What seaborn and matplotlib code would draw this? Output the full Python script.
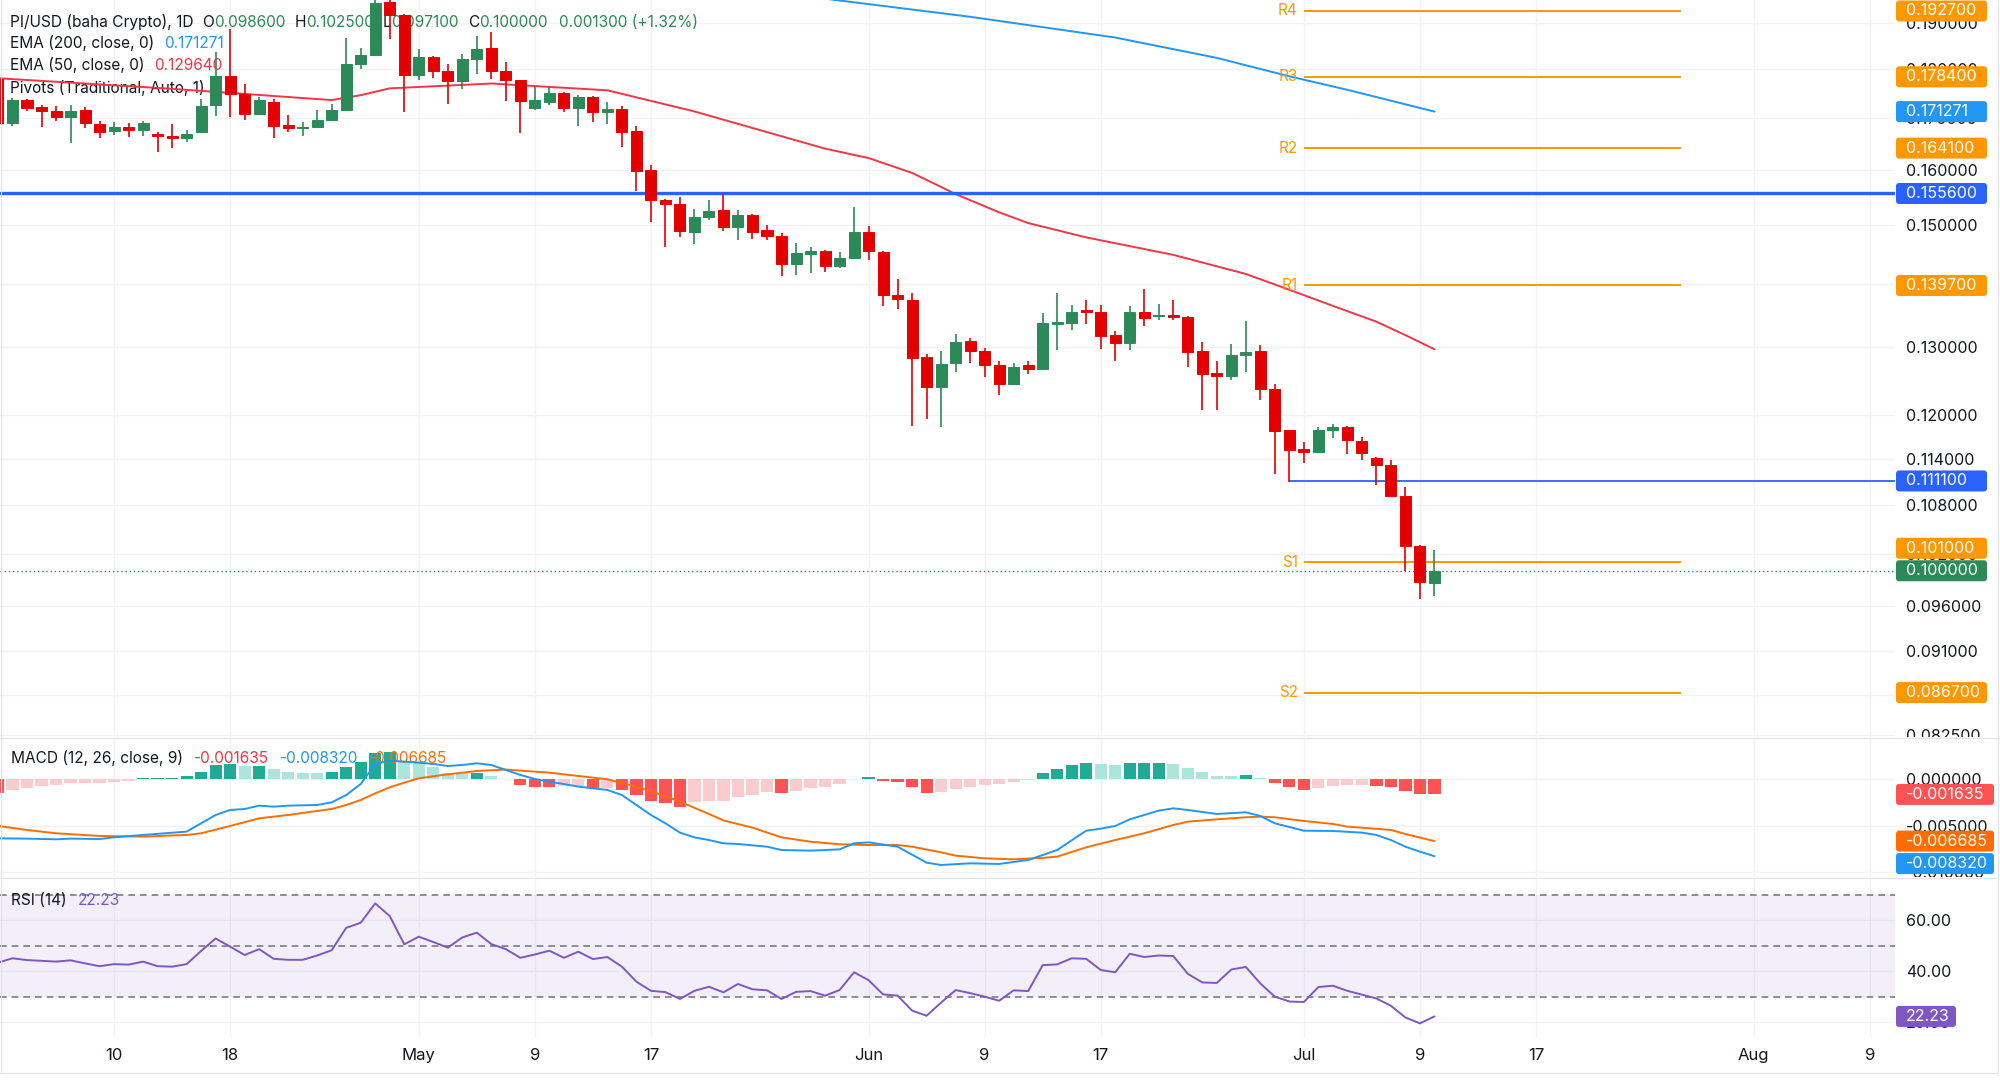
import numpy as np
import pandas as pd
import matplotlib
matplotlib.use("Agg")
import matplotlib.pyplot as plt
import matplotlib.dates as mdates
from matplotlib.patches import FancyBboxPatch
from matplotlib.lines import Line2D
from matplotlib.ticker import FixedLocator, NullLocator
from matplotlib.transforms import IdentityTransform, Bbox
import seaborn as sns

OUTPUT_PATH = "out.png"
W, H = 2000, 1087

# daily candles, 2 Apr -> 10 Jul
first_day = "2025-04-02"
opens = [0.1780, 0.1689, 0.1736, 0.1722, 0.1714, 0.1702, 0.1716, 0.1688, 0.1674, 0.1682,
         0.1677, 0.1669, 0.1665, 0.1661, 0.1672, 0.1726, 0.1786, 0.1749, 0.1707, 0.1732,
         0.1686, 0.1681, 0.1682, 0.1695, 0.1716, 0.1812, 0.1830, 0.1947, 0.1918, 0.1788,
         0.1826, 0.1797, 0.1775, 0.1822, 0.1845, 0.1797, 0.1777, 0.1719, 0.1733, 0.1750,
         0.1719, 0.1742, 0.1711, 0.1718, 0.1674, 0.1600, 0.1545, 0.1537, 0.1488, 0.1514,
         0.1527, 0.1496, 0.1517, 0.1490, 0.1481, 0.1433, 0.1450, 0.1454, 0.1429, 0.1443,
         0.1487, 0.1453, 0.1382, 0.1374, 0.1284, 0.1241, 0.1276, 0.1309, 0.1293, 0.1273,
         0.1245, 0.1273, 0.1266, 0.1336, 0.1337, 0.1357, 0.1355, 0.1318, 0.1306, 0.1355,
         0.1348, 0.1350, 0.1347, 0.1294, 0.1261, 0.1256, 0.1287, 0.1294, 0.1237, 0.1179,
         0.1153, 0.1150, 0.1179, 0.1183, 0.1164, 0.1141, 0.1132, 0.1092, 0.1030, 0.0986]
highs = [0.1790, 0.1740, 0.1739, 0.1727, 0.1724, 0.1727, 0.1722, 0.1694, 0.1692, 0.1690,
         0.1694, 0.1673, 0.1688, 0.1676, 0.1739, 0.1836, 0.1886, 0.1769, 0.1742, 0.1738,
         0.1706, 0.1692, 0.1715, 0.1728, 0.1866, 0.1846, 0.1980, 0.1980, 0.1920, 0.1844,
         0.1827, 0.1810, 0.1832, 0.1872, 0.1880, 0.1816, 0.1778, 0.1763, 0.1763, 0.1752,
         0.1747, 0.1745, 0.1733, 0.1724, 0.1684, 0.1608, 0.1546, 0.1549, 0.1528, 0.1544,
         0.1555, 0.1526, 0.1519, 0.1500, 0.1485, 0.1469, 0.1462, 0.1457, 0.1453, 0.1531,
         0.1497, 0.1455, 0.1408, 0.1385, 0.1289, 0.1294, 0.1319, 0.1313, 0.1299, 0.1278,
         0.1276, 0.1279, 0.1353, 0.1384, 0.1366, 0.1374, 0.1365, 0.1325, 0.1363, 0.1392,
         0.1367, 0.1373, 0.1348, 0.1307, 0.1278, 0.1305, 0.1340, 0.1303, 0.1244, 0.1179,
         0.1163, 0.1183, 0.1188, 0.1185, 0.1170, 0.1143, 0.1139, 0.1103, 0.1031, 0.1025]
lows = [0.1685, 0.1685, 0.1714, 0.1683, 0.1693, 0.1650, 0.1681, 0.1660, 0.1666, 0.1662,
        0.1664, 0.1634, 0.1641, 0.1653, 0.1670, 0.1703, 0.1702, 0.1696, 0.1705, 0.1660,
        0.1672, 0.1664, 0.1680, 0.1693, 0.1713, 0.1801, 0.1828, 0.1864, 0.1712, 0.1778,
        0.1782, 0.1729, 0.1758, 0.1790, 0.1780, 0.1734, 0.1671, 0.1716, 0.1727, 0.1711,
        0.1684, 0.1691, 0.1688, 0.1643, 0.1560, 0.1505, 0.1462, 0.1479, 0.1467, 0.1508,
        0.1489, 0.1474, 0.1476, 0.1474, 0.1413, 0.1414, 0.1418, 0.1420, 0.1426, 0.1442,
        0.1439, 0.1364, 0.1359, 0.1185, 0.1195, 0.1184, 0.1263, 0.1276, 0.1255, 0.1229,
        0.1245, 0.1259, 0.1266, 0.1296, 0.1326, 0.1335, 0.1297, 0.1279, 0.1295, 0.1332,
        0.1342, 0.1342, 0.1270, 0.1208, 0.1207, 0.1250, 0.1263, 0.1221, 0.1120, 0.1110,
        0.1134, 0.1148, 0.1168, 0.1146, 0.1138, 0.1106, 0.1091, 0.1000, 0.0967, 0.0971]
closes = [0.1690, 0.1737, 0.1719, 0.1714, 0.1702, 0.1714, 0.1689, 0.1672, 0.1682, 0.1676,
          0.1689, 0.1665, 0.1661, 0.1668, 0.1724, 0.1786, 0.1749, 0.1707, 0.1736, 0.1684,
          0.1681, 0.1683, 0.1696, 0.1716, 0.1812, 0.1830, 0.1946, 0.1918, 0.1788, 0.1825,
          0.1797, 0.1775, 0.1822, 0.1844, 0.1797, 0.1777, 0.1734, 0.1736, 0.1750, 0.1719,
          0.1742, 0.1711, 0.1718, 0.1673, 0.1598, 0.1544, 0.1537, 0.1489, 0.1513, 0.1525,
          0.1496, 0.1518, 0.1488, 0.1481, 0.1433, 0.1452, 0.1454, 0.1430, 0.1442, 0.1487,
          0.1454, 0.1382, 0.1375, 0.1283, 0.1240, 0.1274, 0.1308, 0.1293, 0.1273, 0.1245,
          0.1270, 0.1266, 0.1337, 0.1339, 0.1355, 0.1355, 0.1316, 0.1306, 0.1355, 0.1345,
          0.1350, 0.1347, 0.1292, 0.1259, 0.1256, 0.1287, 0.1292, 0.1237, 0.1178, 0.1152,
          0.1150, 0.1179, 0.1183, 0.1165, 0.1148, 0.1132, 0.1092, 0.1030, 0.0987, 0.1000]

# EMA lines (day = days after 2 Apr)
ema50_day = [0, 12, 23, 25, 27, 34, 42, 48, 57, 60, 63, 66, 69, 71, 75, 81, 86, 89, 92, 95, 97, 99]
ema50_val = [0.1781, 0.1759, 0.1736, 0.1746, 0.1760, 0.1770, 0.1756, 0.1713, 0.1640, 0.1622, 0.1594,
             0.1555, 0.1522, 0.1503, 0.1478, 0.1448, 0.1416, 0.1390, 0.1364, 0.1339, 0.1318, 0.12964]
ema200_day = [57, 67, 77, 84, 89, 93, 99]
ema200_val = [0.1955, 0.1914, 0.1868, 0.1824, 0.1785, 0.1757, 0.171271]

# MACD (12, 26, close, 9)
macd_hist = [-0.00145, -0.00115, -0.00090, -0.00072, -0.00062, -0.00045, -0.00040, -0.00038, -0.00028, -0.00017,
             0.00010, 0.00018, 0.00019, 0.00034, 0.00081, 0.00150, 0.00170, 0.00146, 0.00148, 0.00111,
             0.00083, 0.00072, 0.00065, 0.00075, 0.00137, 0.00184, 0.00281, 0.00299, 0.00202, 0.00200,
             0.00137, 0.00065, 0.00064, 0.00072, 0.00036, 0.00004, -0.00061, -0.00079, -0.00081, -0.00075,
             -0.00070, -0.00097, -0.00090, -0.00115, -0.00170, -0.00234, -0.00260, -0.00296, -0.00242, -0.00240,
             -0.00234, -0.00188, -0.00170, -0.00141, -0.00152, -0.00126, -0.00097, -0.00079, -0.00054, 0.00007,
             0.00022, -0.00014, -0.00032, -0.00087, -0.00144, -0.00141, -0.00105, -0.00079, -0.00061, -0.00054,
             -0.00029, -0.00007, 0.00069, 0.00112, 0.00155, 0.00180, 0.00166, 0.00152, 0.00173, 0.00174,
             0.00175, 0.00166, 0.00123, 0.00076, 0.00040, 0.00039, 0.00047, 0.00011, -0.00043, -0.00087,
             -0.00115, -0.00090, -0.00069, -0.00061, -0.00060, -0.00069, -0.00079, -0.00123, -0.00158, -0.001635]
macd_day = [0, 2, 4, 5, 7, 8, 10, 13, 14, 15, 16, 17, 18, 19, 20, 22, 23, 24, 25, 26, 27, 28, 29, 30, 31,
            32, 33, 34, 35, 36, 37, 38, 39, 40, 41, 42, 43, 44, 45, 46, 47, 48, 49, 50, 51, 53, 54, 56, 58,
            59, 60, 62, 64, 65, 67, 69, 71, 73, 75, 76, 77, 78, 80, 81, 82, 84, 86, 87, 88, 90, 92, 94, 95,
            96, 97, 98, 99]
macd_val = [-0.00639, -0.00642, -0.00649, -0.00642, -0.00646, -0.00628, -0.00602, -0.00566, -0.00476,
            -0.00386, -0.00332, -0.00321, -0.00285, -0.00296, -0.00285, -0.00278, -0.00249, -0.00170,
            -0.00051, 0.00166, 0.00202, 0.00191, 0.00180, 0.00166, 0.00144, 0.00155, 0.00173, 0.00155,
            0.00101, 0.00047, 0.00004, -0.00025, -0.00051, -0.00079, -0.00097, -0.00115, -0.00170,
            -0.00278, -0.00386, -0.00476, -0.00577, -0.00628, -0.00657, -0.00693, -0.00700, -0.00729,
            -0.00765, -0.00772, -0.00758, -0.00693, -0.00682, -0.00729, -0.00902, -0.00927, -0.00909,
            -0.00916, -0.00873, -0.00765, -0.00556, -0.00534, -0.00505, -0.00433, -0.00339, -0.00314,
            -0.00332, -0.00375, -0.00357, -0.00397, -0.00476, -0.00556, -0.00559, -0.00577, -0.00602,
            -0.00657, -0.00729, -0.00783, -0.00832]
signal_day = [0, 2, 4, 7, 10, 13, 14, 16, 18, 20, 23, 24, 25, 26, 27, 28, 29, 31, 33, 35, 36, 38, 40, 42,
              44, 46, 47, 49, 50, 52, 54, 56, 58, 60, 62, 63, 65, 66, 68, 70, 72, 73, 75, 77, 79, 81, 82,
              84, 86, 87, 88, 90, 92, 93, 96, 97, 99]
signal_val = [-0.00505, -0.00548, -0.00584, -0.00613, -0.00620, -0.00602, -0.00584, -0.00505, -0.00422,
              -0.00386, -0.00321, -0.00278, -0.00224, -0.00152, -0.00087, -0.00036, 0.00011, 0.00054,
              0.00090, 0.00106, 0.00094, 0.00072, 0.00036, 0.00000, -0.00079, -0.00181, -0.00242,
              -0.00375, -0.00445, -0.00523, -0.00628, -0.00675, -0.00703, -0.00711, -0.00711, -0.00729,
              -0.00790, -0.00826, -0.00855, -0.00866, -0.00850, -0.00837, -0.00736, -0.00657, -0.00584,
              -0.00494, -0.00458, -0.00433, -0.00411, -0.00404, -0.00411, -0.00451, -0.00483, -0.00512,
              -0.00548, -0.00592, -0.006685]

# RSI (14), one value per candle
rsi_val = [43.4, 45.1, 44.4, 44.1, 43.8, 44.3, 43.1, 42.0, 42.8, 42.6,
           43.8, 42.0, 41.8, 42.8, 48.0, 52.9, 49.7, 46.4, 48.7, 44.9,
           44.5, 44.5, 46.2, 48.3, 57.1, 59.1, 66.7, 61.7, 50.6, 53.6,
           51.5, 49.3, 53.3, 55.2, 50.7, 48.7, 45.3, 46.6, 48.1, 45.3,
           47.7, 44.8, 45.6, 41.8, 35.9, 32.3, 31.8, 29.1, 32.3, 33.9,
           31.7, 35.0, 32.9, 32.5, 29.1, 31.9, 32.2, 30.4, 32.6, 39.6,
           36.5, 30.9, 30.4, 24.5, 22.5, 27.7, 32.6, 31.4, 30.0, 28.4,
           32.5, 32.2, 42.4, 42.7, 45.1, 44.9, 40.5, 39.6, 46.9, 45.6,
           46.2, 46.0, 39.0, 35.6, 35.4, 40.7, 41.7, 35.2, 30.0, 28.1,
           27.9, 33.8, 34.3, 32.3, 30.8, 29.3, 26.4, 21.8, 19.5, 22.23]

pivot_names = ["R4", "R3", "R2", "R1", "S1", "S2"]
pivot_vals = [0.1927, 0.1784, 0.1641, 0.1397, 0.1010, 0.0867]
pivot_from, pivot_to = "2025-07-01", "2025-07-27"
level_major = 0.1556
level_minor = 0.1111
level_minor_from = "2025-06-30"
last_price = 0.1000

price_ticks = [0.19, 0.18, 0.17, 0.16, 0.15, 0.14, 0.13, 0.12, 0.114, 0.108, 0.102, 0.096, 0.091, 0.0865, 0.0825]
macd_ticks = [0.0, -0.005, -0.010]
rsi_ticks = [60, 40, 20]
rsi_levels = [70, 50, 30]
time_tick_dates = ["2025-04-10", "2025-04-18", "2025-05-01", "2025-05-09", "2025-05-17", "2025-06-01",
                   "2025-06-09", "2025-06-17", "2025-07-01", "2025-07-09", "2025-07-17", "2025-08-01",
                   "2025-08-09"]
time_tick_labels = ["10", "18", "May", "9", "17", "Jun", "9", "17", "Jul", "9", "17", "Aug", "9"]

GREEN = "#2b8a57"
RED = "#e50000"
BLUE_EMA = "#2196f3"
RED_EMA = "#f23645"
ORANGE = "#ff9800"
LEVEL_BLUE = "#2962ff"
MACD_ORANGE = "#ff6d00"
PURPLE = "#7e57c2"
TXT = "#131722"
GRID = "#f0f2f6"
SEP = "#e0e3eb"
FS = 11.5
LEG_FS = 11.1


def px_rect(x0, y0, x1, y1):
    return [x0 / W, 1 - y1 / H, (x1 - x0) / W, (y1 - y0) / H]


def text_run(ax, x, y, parts, fs=LEG_FS):
    # parts: (text, colour, gap in px before it)
    t = None
    for s, c, gap in parts:
        if t is None:
            t = ax.text(x, H - y, s, color=c, fontsize=fs, va="center", ha="left",
                        transform=IdentityTransform(), zorder=2)
        else:
            t = ax.annotate(s, xy=(1, 0), xycoords=t, xytext=(gap, 0), textcoords="offset pixels",
                            color=c, fontsize=fs, va="bottom", ha="left", zorder=2)


def place_tags(fig, ax, tags, width, sep=22.5):
    placed = []
    for value, text, color in tags:
        y = ax.transData.transform((0, value))[1]
        for _ in range(5):
            for p in placed:
                if abs(y - p) < sep:
                    y = p + sep if y >= p else p - sep
        placed.append(y)
        box = FancyBboxPatch((1896, y - 10.5), width, 21, boxstyle="round,pad=0,rounding_size=3",
                             fc=color, ec="none", transform=IdentityTransform(), zorder=20)
        fig.add_artist(box)
        fig.text(1906, y, text, color="white", fontsize=FS, va="center", ha="left",
                 transform=IdentityTransform(), zorder=21)


def main():
    sns.set_theme(style="white")
    plt.rcParams["font.family"] = ["Inter", "DejaVu Sans"]

    days = pd.date_range(first_day, periods=len(closes))
    x = mdates.date2num(days)
    x0 = x[0]
    o, hi, lo, c = map(np.asarray, (opens, highs, lows, closes))

    fig = plt.figure(figsize=(W / 100, H / 100), dpi=100)
    ax = fig.add_axes(px_rect(0, 0, 1895, 737))
    ax_m = fig.add_axes(px_rect(0, 738, 1895, 877), sharex=ax)
    ax_r = fig.add_axes(px_rect(0, 878, 1895, 1037), sharex=ax)

    tick_x = mdates.date2num(pd.to_datetime(time_tick_dates))
    for a in (ax, ax_m, ax_r):
        for sp in a.spines.values():
            sp.set_visible(False)
        a.set_facecolor("white")
        a.set_axisbelow(True)
        a.grid(True, color=GRID, lw=1.0)
        a.yaxis.tick_right()
        a.tick_params(axis="both", length=0, labelsize=FS, labelcolor=TXT)
        a.tick_params(axis="y", pad=8)
    ax.set_xlim(x[1] - 0.861, x[1] + 129.74)
    ax.xaxis.set_major_locator(FixedLocator(tick_x))
    ax_r.set_xticklabels(time_tick_labels)
    ax.tick_params(axis="x", labelbottom=False)
    ax_m.tick_params(axis="x", labelbottom=False)
    ax_r.tick_params(axis="x", labelbottom=True, pad=8, labelsize=12)

    # ---- price pane
    ax.set_yscale("log")
    ax.set_ylim(0.0823, 0.1952)
    ax.yaxis.set_major_locator(FixedLocator(price_ticks))
    ax.yaxis.set_minor_locator(NullLocator())
    ax.yaxis.set_major_formatter(plt.FuncFormatter(lambda v, p: f"{v:.6f}"))

    up = c >= o
    col = np.where(up, GREEN, RED)
    ax.vlines(x, lo, hi, colors=col, lw=1.2, zorder=4)
    ax.bar(x, np.abs(c - o), bottom=np.minimum(o, c), width=0.76, color=col, edgecolor=col,
           lw=0.7, zorder=5)

    sns.lineplot(x=x0 + np.array(ema50_day), y=ema50_val, ax=ax, color=RED_EMA, lw=1.4,
                 estimator=None, sort=False, zorder=3)
    sns.lineplot(x=x0 + np.array(ema200_day), y=ema200_val, ax=ax, color=BLUE_EMA, lw=1.4,
                 estimator=None, sort=False, zorder=3)

    ax.axhline(level_major, color=LEVEL_BLUE, lw=2.4, zorder=3)
    ax.hlines(level_minor, mdates.date2num(pd.Timestamp(level_minor_from)), ax.get_xlim()[1],
              color=LEVEL_BLUE, lw=1.3, zorder=3)
    ax.axhline(last_price, color=GREEN, lw=1.0, ls=(0, (1, 2)), zorder=3)
    px0 = mdates.date2num(pd.Timestamp(pivot_from))
    px1 = mdates.date2num(pd.Timestamp(pivot_to))
    ax.hlines(pivot_vals, px0, px1, color=ORANGE, lw=1.4, zorder=3)
    for name, v in zip(pivot_names, pivot_vals):
        ax.annotate(name, xy=(px0, v), xytext=(-6, 0), textcoords="offset pixels", color=ORANGE,
                    fontsize=11, ha="right", va="center", zorder=3)

    text_run(ax, 10, 21.7, [("PI/USD (baha Crypto), 1D", TXT, 0), ("O", TXT, 9), (f"{opens[-1]:.6f}", GREEN, 0),
                            ("H", TXT, 9), (f"{highs[-1]:.6f}", GREEN, 0), ("L", TXT, 9),
                            (f"{lows[-1]:.6f}", GREEN, 0), ("C", TXT, 9), (f"{closes[-1]:.6f}", GREEN, 0),
                            ("0.001300 (+1.32%)", GREEN, 11)])
    text_run(ax, 10, 43.3, [("EMA (200, close, 0)", TXT, 0), (f"{ema200_val[-1]:.6f}", BLUE_EMA, 10)])
    text_run(ax, 10, 65.3, [("EMA (50, close, 0)", TXT, 0), (f"{ema50_val[-1]:.6f}", RED_EMA, 10)])
    text_run(ax, 10, 87.7, [("Pivots (Traditional, Auto, 1)", TXT, 0)])

    # ---- MACD pane
    ax_m.set_ylim(-0.01057, 0.00447)
    ax_m.yaxis.set_major_locator(FixedLocator(macd_ticks))
    ax_m.yaxis.set_major_formatter(plt.FuncFormatter(lambda v, p: f"{v:.6f}"))
    h = np.asarray(macd_hist)
    prev = np.r_[0.0, h[:-1]]
    hcol = np.where(h >= 0, np.where(h > prev, "#22ab94", "#ace5dc"),
                    np.where(h < prev, "#ff5252", "#fccbcd"))
    ax_m.bar(x, h, width=0.84, color=hcol, lw=0, zorder=2)
    sns.lineplot(x=x0 + np.array(signal_day), y=signal_val, ax=ax_m, color=MACD_ORANGE, lw=1.4,
                 estimator=None, sort=False, zorder=3)
    sns.lineplot(x=x0 + np.array(macd_day), y=macd_val, ax=ax_m, color=BLUE_EMA, lw=1.4,
                 estimator=None, sort=False, zorder=3)
    text_run(ax_m, 11, 758.3, [("MACD (12, 26, close, 9)", TXT, 0), (f"{macd_hist[-1]:.6f}", "#f23645", 11),
                               (f"{macd_val[-1]:.6f}", BLUE_EMA, 11), (f"{signal_val[-1]:.6f}", MACD_ORANGE, 11)])

    # ---- RSI pane
    ax_r.set_ylim(14.13, 76.7)
    ax_r.yaxis.set_major_locator(FixedLocator(rsi_ticks))
    ax_r.yaxis.set_major_formatter(plt.FuncFormatter(lambda v, p: f"{v:.2f}"))
    ax_r.axhspan(rsi_levels[-1], rsi_levels[0], color=PURPLE, alpha=0.09, lw=0, zorder=1)
    for lvl in rsi_levels:
        ax_r.axhline(lvl, color="#787b86", lw=1.2, ls=(0, (4, 3)), zorder=1.5)
    sns.lineplot(x=x, y=rsi_val, ax=ax_r, color=PURPLE, lw=1.4, estimator=None, sort=False, zorder=3)
    text_run(ax_r, 11, 900.7, [("RSI (14)", TXT, 0), (f"{rsi_val[-1]:.2f}", PURPLE, 11)])

    for a in (ax, ax_m, ax_r):
        a.set_xlabel("")
        a.set_ylabel("")

    # clip right-axis labels to their pane
    for a in (ax, ax_m, ax_r):
        bb = a.get_position()
        clip = Bbox.from_extents(bb.x0 * W, bb.y0 * H, W, bb.y1 * H)
        for tk in a.yaxis.get_major_ticks():
            tk.label2.set_clip_box(clip)
            tk.label2.set_clip_on(True)

    # price tags on the right scale
    place_tags(fig, ax, [(last_price, f"{last_price:.6f}", GREEN)]
               + [(v, f"{v:.6f}", ORANGE) for v in pivot_vals]
               + [(ema200_val[-1], f"{ema200_val[-1]:.6f}", BLUE_EMA),
                  (level_major, f"{level_major:.6f}", LEVEL_BLUE),
                  (level_minor, f"{level_minor:.6f}", LEVEL_BLUE)], 91)
    place_tags(fig, ax_m, [(macd_hist[-1], f"{macd_hist[-1]:.6f}", "#ff5252"),
                           (signal_val[-1], f"{signal_val[-1]:.6f}", MACD_ORANGE),
                           (macd_val[-1], f"{macd_val[-1]:.6f}", BLUE_EMA)], 98)
    place_tags(fig, ax_r, [(rsi_val[-1], f"{rsi_val[-1]:.2f}", PURPLE)], 60)

    # pane separators and outer frame
    for yy in (737.5, 877.5):
        fig.add_artist(Line2D([0, 1998], [H - yy, H - yy], color=SEP, lw=0.8, transform=IdentityTransform()))
    fig.add_artist(Line2D([0, 1998], [H - 1073, H - 1073], color=SEP, lw=0.8, transform=IdentityTransform()))
    fig.add_artist(Line2D([1998, 1998], [H, H - 1073], color=SEP, lw=0.8, transform=IdentityTransform()))
    fig.add_artist(Line2D([0.5, 0.5], [H, H - 1073], color=SEP, lw=0.8, transform=IdentityTransform()))

    fig.savefig(OUTPUT_PATH, dpi=100, facecolor="white")
    plt.close(fig)


if __name__ == "__main__":
    main()
